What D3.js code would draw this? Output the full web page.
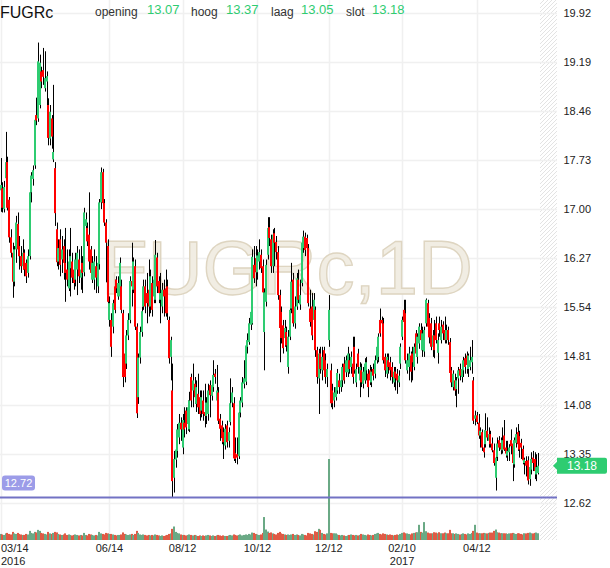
<!DOCTYPE html>
<html><head><meta charset="utf-8">
<script src="https://cdn.jsdelivr.net/npm/d3@7"></script>
<style>html,body{margin:0;padding:0;background:#fff;}svg{display:block;font-family:"Liberation Sans",Arial,sans-serif;}</style>
</head><body><svg id="c" width="610" height="568"></svg>
<script>
const symbol = "FUGRc", interval = "1D";
const headerLabels = ["opening", "hoog", "laag", "slot"];
const headerValues = [13.07, 13.37, 13.05, 13.18];
const yTicks = [12.62, 13.35, 14.08, 14.81, 15.54, 16.27, 17.00, 17.73, 18.46, 19.19, 19.92];
const xTickIdx = [0, 64, 107, 151, 193, 236, 280];
const xTickLabels = ["03/14", "06/14", "08/12", "10/12", "12/12", "02/10", "04/12"];
const xTickYears = ["2016", "", "", "", "", "2017", ""];
const refLine = 12.72;

const opens = [
17.28,17.31,17.00,17.46,17.70,17.14,16.58,16.35,15.92,16.40,
16.78,16.45,16.30,16.15,16.35,16.20,16.05,16.30,17.25,17.45,
17.65,18.40,18.35,18.55,19.05,19.07,18.80,18.90,18.55,18.05,
18.35,17.74,17.61,16.70,16.22,16.55,16.25,16.45,16.20,16.10,
15.82,16.12,16.22,16.10,15.95,16.10,16.25,15.98,16.20,16.06,
16.75,16.72,16.62,16.40,15.95,15.95,16.15,15.85,16.18,17.10,
17.55,17.09,16.80,16.45,15.35,15.35,15.25,15.85,15.95,15.70,
15.70,15.85,15.45,14.85,14.70,15.12,15.35,15.93,15.80,16.15,
15.25,14.20,14.79,15.17,15.55,15.85,15.75,15.80,15.55,15.90,
15.70,15.65,16.28,15.93,15.65,15.55,15.80,15.82,15.85,15.35,
14.80,14.30,13.00,13.27,13.40,13.60,13.82,13.45,13.82,14.00,
13.80,13.72,14.50,14.30,14.40,14.10,14.25,14.20,14.00,14.15,
13.98,13.92,13.95,14.38,14.22,14.35,14.55,14.15,14.27,13.88,
13.78,13.68,13.48,13.78,13.55,13.83,14.12,14.11,13.37,13.35,
13.32,13.97,14.12,14.40,14.43,14.95,15.02,15.28,15.30,16.17,
16.27,16.06,16.22,16.32,16.15,15.17,15.62,16.32,16.73,16.55,
16.15,16.64,16.51,16.36,15.72,15.47,15.27,15.08,15.17,14.65,
15.10,15.52,15.95,15.30,15.55,15.95,15.58,15.90,16.42,16.59,
16.57,16.42,15.52,15.55,15.35,15.50,14.90,14.48,14.85,14.60,
14.90,14.75,14.50,15.05,14.60,14.30,14.15,14.20,14.30,14.45,
14.35,14.45,14.70,14.57,14.57,14.75,14.65,14.70,14.95,14.42,
14.85,14.45,14.60,14.40,14.45,14.60,14.55,14.60,14.42,14.62,
14.55,14.75,14.80,15.35,15.35,15.30,14.80,14.55,14.75,14.72,
14.65,14.42,14.58,14.55,14.42,14.70,15.10,15.50,15.45,14.60,
14.65,14.82,14.85,14.65,15.15,14.80,15.00,15.20,14.90,14.88,
15.30,15.60,15.38,15.30,14.95,15.12,15.30,14.86,15.30,15.05,
15.28,15.20,15.05,15.20,15.02,14.60,14.35,14.45,14.32,14.48,
14.62,14.50,14.60,14.78,14.82,14.62,14.65,14.72,14.45,13.88,
13.93,13.82,13.63,13.68,13.45,13.50,13.70,13.55,13.65,13.51,
13.41,13.00,13.31,13.56,13.52,13.41,13.63,13.45,13.33,13.38,
13.56,13.51,13.20,13.52,13.68,13.62,13.52,13.43,13.22,13.25,
13.26,12.98,13.12,13.30,13.28,13.05,13.07];

const highs = [
17.76,17.40,17.42,18.15,17.78,17.18,16.70,16.50,16.45,16.90,
16.95,16.60,16.45,16.55,16.40,16.25,16.40,17.30,17.55,17.65,
18.38,18.66,19.48,19.30,19.12,19.40,19.35,19.05,18.65,18.55,
18.40,18.85,17.70,16.80,16.55,16.70,16.60,16.55,16.72,16.40,
16.40,16.72,16.35,16.20,16.35,16.45,16.40,16.45,16.30,17.02,
16.95,16.80,17.25,16.45,16.30,16.40,16.30,16.30,17.15,17.62,
17.60,17.15,16.85,16.55,15.70,15.45,15.65,15.95,16.00,16.00,
16.28,15.95,15.50,14.95,15.20,15.45,16.00,16.50,16.28,16.25,
15.30,14.85,15.25,15.55,15.95,15.95,16.05,16.25,16.10,16.00,
16.05,16.54,16.35,16.00,16.05,15.90,15.95,16.10,15.95,15.40,
15.10,14.70,13.40,13.55,13.80,13.95,13.90,13.95,14.05,14.05,
14.15,14.28,14.55,14.70,14.50,14.45,14.55,14.30,14.30,14.30,
14.40,14.20,14.40,14.45,14.50,14.75,14.62,14.68,14.35,13.95,
13.85,13.75,13.80,13.85,13.75,14.48,14.35,14.20,13.60,13.60,
14.00,14.20,14.50,14.75,15.02,15.15,15.38,15.55,16.40,16.45,
16.45,16.40,16.55,16.40,16.25,15.82,16.25,16.88,16.88,16.62,
16.70,16.72,16.60,16.45,15.80,15.55,15.35,15.35,15.25,15.20,
15.65,16.20,16.05,15.70,16.05,16.10,15.95,16.55,16.68,16.65,
16.62,16.48,15.80,15.75,15.75,15.55,14.95,14.92,14.95,14.95,
14.95,14.85,14.70,15.72,14.70,14.40,14.35,14.45,14.62,14.55,
14.60,14.70,14.80,14.82,14.95,14.85,14.88,15.10,15.10,14.70,
14.92,14.72,14.70,14.65,14.78,14.80,14.62,14.68,14.65,14.70,
14.82,15.00,15.15,15.52,15.40,15.38,14.85,14.85,14.85,14.80,
14.72,14.65,14.65,14.62,14.60,15.00,15.40,15.65,15.65,14.85,
14.95,14.88,14.95,15.00,15.20,15.15,15.30,15.30,15.25,15.25,
15.67,15.65,15.45,15.38,15.20,15.35,15.40,15.15,15.40,15.35,
15.33,15.40,15.28,15.25,15.08,14.65,14.60,14.55,14.50,14.65,
14.70,14.70,14.80,14.85,14.88,14.85,14.95,15.05,14.50,14.00,
13.98,13.95,13.75,13.72,13.55,13.96,13.90,13.75,13.70,13.60,
13.51,13.33,13.60,13.62,13.60,13.75,13.86,13.55,13.55,13.50,
13.72,13.55,13.60,13.75,13.80,13.70,13.58,13.48,13.30,13.32,
13.32,13.25,13.38,13.40,13.38,13.35,13.37];

const lows = [
16.96,16.95,16.95,17.40,16.98,16.50,16.28,15.68,15.85,16.20,
16.30,16.10,16.05,16.10,16.00,15.90,15.98,16.25,17.10,17.35,
17.60,18.25,18.30,18.50,18.80,18.85,18.75,18.55,17.95,17.95,
17.90,17.70,16.75,16.15,16.10,16.00,16.05,15.95,15.62,15.85,
15.78,15.70,15.90,15.80,15.85,15.72,15.90,15.80,15.75,16.00,
16.70,16.45,16.10,16.00,15.90,15.80,15.75,15.75,16.10,17.00,
17.05,16.75,15.91,15.55,15.25,14.80,15.15,15.45,15.75,15.65,
15.65,15.45,14.35,14.42,14.62,15.05,15.30,15.55,15.75,15.20,
13.89,14.10,14.70,15.10,15.50,15.45,15.30,15.40,15.45,15.40,
15.60,15.60,15.75,15.60,15.30,15.45,15.40,15.40,15.35,14.70,
14.45,12.70,12.78,13.15,13.30,13.50,13.55,13.35,13.60,13.65,
13.70,13.68,14.05,14.05,14.10,13.98,13.95,13.85,13.90,13.85,
13.75,13.80,13.85,13.90,14.15,14.28,14.40,14.05,13.80,13.55,
13.50,13.28,13.42,13.45,13.45,13.78,14.05,13.25,13.22,13.20,
13.28,13.90,14.05,14.33,14.38,14.85,14.98,15.20,15.28,15.90,
15.85,15.95,16.10,16.05,15.70,14.60,15.55,16.25,16.45,16.05,
16.05,16.15,16.25,15.65,14.72,15.00,14.85,14.95,14.88,14.55,
15.05,15.45,15.25,15.22,15.50,15.60,15.50,15.85,16.35,16.30,
16.35,15.55,15.25,15.05,15.30,14.80,14.40,13.95,14.55,14.45,
14.50,14.40,14.35,14.95,14.05,14.02,14.05,14.15,14.25,14.25,
14.28,14.35,14.40,14.50,14.50,14.55,14.55,14.40,14.55,14.35,
14.55,14.20,14.35,14.33,14.40,14.45,14.20,14.38,14.35,14.45,
14.48,14.70,14.72,15.10,15.25,14.70,14.50,14.48,14.55,14.45,
14.40,14.35,14.30,14.25,14.35,14.62,15.05,15.25,14.70,14.55,
14.45,14.42,14.45,14.60,14.80,14.70,14.92,14.90,14.80,14.80,
15.25,15.20,15.00,14.90,14.80,14.78,15.00,14.70,15.10,15.00,
15.05,15.00,15.00,14.98,14.50,14.35,14.30,14.22,14.05,14.25,
14.45,14.42,14.50,14.55,14.55,14.50,14.60,14.55,13.80,13.78,
13.80,13.58,13.45,13.40,13.30,13.45,13.55,13.45,13.45,13.38,
13.18,12.81,13.25,13.40,13.35,13.36,13.40,13.30,13.25,13.25,
13.35,12.95,13.15,13.45,13.40,13.30,13.28,13.20,13.05,13.02,
12.90,12.88,13.05,13.10,12.98,12.95,13.05];

const closes = [
17.36,17.02,17.33,17.70,17.02,16.58,16.35,15.92,16.40,16.80,
16.40,16.30,16.15,16.35,16.10,16.00,16.30,17.25,17.50,17.58,
18.33,18.32,19.20,19.18,18.90,18.97,18.95,18.98,18.06,18.45,
18.08,17.85,16.94,16.21,16.42,16.17,16.40,16.20,16.05,15.95,
16.22,16.30,15.98,15.90,16.25,16.35,16.00,16.10,16.05,16.95,
16.85,16.52,16.22,16.05,16.20,16.22,15.98,16.20,17.10,17.55,
17.09,16.80,16.50,15.62,15.60,14.95,15.60,15.50,15.82,15.90,
16.20,15.50,14.50,14.50,15.12,15.35,15.93,15.85,16.22,15.25,
13.96,14.79,15.17,15.48,15.85,15.55,15.60,15.55,16.00,15.50,
15.95,16.32,15.85,15.75,15.75,15.80,15.70,15.45,15.45,14.78,
15.05,12.95,13.28,13.42,13.72,13.82,13.72,13.86,13.72,13.75,
14.05,14.15,14.15,14.45,14.20,14.35,14.05,13.95,14.20,13.95,
13.92,14.12,14.30,14.23,14.38,14.53,14.50,14.30,13.85,13.73,
13.59,13.53,13.73,13.53,13.68,14.11,14.27,13.29,13.28,13.30,
13.97,14.15,14.42,14.48,14.97,15.05,15.30,15.47,16.29,15.97,
16.06,16.31,16.36,16.12,15.76,15.76,16.17,16.72,16.57,16.15,
16.62,16.50,16.36,15.72,15.23,15.08,14.93,15.23,14.97,15.10,
15.50,15.92,15.30,15.55,15.97,15.65,15.72,16.50,16.59,16.39,
16.42,15.60,15.32,15.12,15.65,14.90,14.50,14.85,14.62,14.80,
14.60,14.50,14.62,15.50,14.11,14.11,14.27,14.35,14.56,14.35,
14.45,14.65,14.45,14.75,14.85,14.62,14.80,14.50,14.60,14.62,
14.65,14.65,14.42,14.58,14.70,14.72,14.35,14.45,14.58,14.52,
14.75,14.95,15.10,15.15,15.30,14.75,14.60,14.80,14.65,14.60,
14.50,14.58,14.48,14.45,14.52,14.95,15.35,15.32,14.75,14.75,
14.85,14.58,14.72,14.95,14.85,15.10,15.25,15.05,15.15,15.20,
15.65,15.25,15.09,14.95,15.12,14.90,15.05,15.05,15.20,15.25,
15.15,15.05,15.20,15.05,14.56,14.42,14.55,14.30,14.45,14.60,
14.52,14.62,14.75,14.65,14.68,14.82,14.75,14.80,13.85,13.93,
13.83,13.63,13.70,13.45,13.38,13.71,13.60,13.65,13.50,13.41,
13.22,13.30,13.51,13.45,13.42,13.56,13.42,13.36,13.40,13.45,
13.47,13.22,13.56,13.65,13.50,13.42,13.45,13.26,13.27,13.18,
12.96,13.16,13.28,13.22,13.10,13.16,13.18];

const volumes = [
900,820,750,980,1050,900,820,1200,980,900,
1050,900,820,750,750,900,820,1350,1050,980,
1200,1120,1500,1350,1050,980,900,820,1200,980,
900,1050,1200,1120,900,820,750,820,980,750,
820,750,680,750,820,750,680,750,680,1050,
750,680,900,820,750,680,750,680,1200,980,
900,820,1050,980,900,900,820,750,680,750,
750,820,1120,900,820,750,820,900,750,900,
1350,1050,820,750,820,750,680,750,680,750,
680,820,750,680,600,680,600,680,750,900,
980,1650,2000,1200,1050,980,820,750,750,680,
750,820,750,680,750,680,600,680,600,680,
600,680,750,680,600,680,600,680,750,680,
600,680,600,600,680,750,680,820,750,680,
750,820,680,750,820,750,900,820,1100,1050,
900,820,750,820,1050,3400,1550,1250,1050,1120,
980,900,820,1050,1200,980,900,820,750,820,
750,820,900,750,820,750,680,900,820,750,
680,1050,980,900,820,1300,1200,1650,1500,1050,
900,820,980,12000,1050,1000,1000,980,820,750,
680,750,680,600,680,750,820,750,680,750,
680,750,900,820,750,680,820,750,680,750,
900,980,1050,900,820,980,900,820,750,820,
750,680,750,820,750,900,1050,1120,1000,980,
900,820,980,1050,1120,1150,2250,1200,1100,2650,
1300,1100,1000,1000,1000,1150,1100,1000,1150,1000,
1000,1100,1000,1000,1500,1000,1000,900,980,900,
820,900,980,900,820,980,900,1050,1350,2250,
1100,1000,1000,1000,1050,1000,980,1050,1100,1100,
1350,1550,1150,1100,1000,1000,1000,980,900,980,
1000,1050,980,900,1000,980,900,820,1000,980,
1050,1100,1000,980,1050,1100,1000];

const svg = d3.select("#c");
const volBase = 540, plotRight = 557, hatchLeft = 540;
const x = d3.scaleLinear().domain([0, opens.length - 1]).range([0.6, 538.1]);
const y = d3.scaleLinear().domain([12.62, 19.92]).range([503.3, 13]);
const yv = d3.scaleLinear().domain([0, d3.max(volumes)]).range([volBase, 459]);
const GREEN = "#2ecc71", RED = "#ff0000";
const VGREEN = "#6aa985", VRED = "#e05a45";

// hatch pattern
const defs = svg.append("defs");
const pat = defs.append("pattern").attr("id", "hatch").attr("patternUnits", "userSpaceOnUse")
  .attr("width", 4).attr("height", 4);
pat.append("path").attr("d", "M-1,1 l2,-2 M0,4 l4,-4 M3,5 l2,-2")
  .attr("stroke", "#e3e3e3").attr("stroke-width", 1);
svg.append("rect").attr("x", hatchLeft).attr("y", 0).attr("width", plotRight - hatchLeft)
  .attr("height", volBase).attr("fill", "url(#hatch)");

// grid
svg.append("g").selectAll("line").data(yTicks).join("line")
  .attr("x1", 0).attr("x2", plotRight)
  .attr("y1", d => Math.round(y(d)) + 0.5).attr("y2", d => Math.round(y(d)) + 0.5)
  .attr("stroke", "#f0f0f0").attr("stroke-width", 1.5);
svg.append("g").selectAll("line").data(xTickIdx).join("line")
  .attr("x1", d => Math.round(x(d)) + 0.5).attr("x2", d => Math.round(x(d)) + 0.5)
  .attr("y1", 0).attr("y2", volBase)
  .attr("stroke", "#f0f0f0").attr("stroke-width", 1.5);

// watermark
svg.append("text").attr("x", 287).attr("y", 294).attr("text-anchor", "middle")
  .attr("font-size", 76).attr("fill", "#f1ede3").attr("stroke", "#ded5c1").attr("stroke-width", 1.4)
  .text(symbol + "," + interval);

// volume
const idx = d3.range(opens.length);
svg.append("g").selectAll("rect").data(idx).join("rect")
  .attr("x", i => Math.round(x(i)) - 1).attr("width", 2)
  .attr("y", i => yv(volumes[i])).attr("height", i => volBase - yv(volumes[i]))
  .attr("fill", i => closes[i] >= opens[i] ? VGREEN : VRED);

// candles
const cg = svg.append("g");
cg.selectAll("line").data(idx).join("line")
  .attr("x1", i => Math.round(x(i)) + 0.5).attr("x2", i => Math.round(x(i)) + 0.5)
  .attr("y1", i => y(highs[i])).attr("y2", i => y(lows[i]))
  .attr("stroke", "#000").attr("stroke-width", 1);
cg.selectAll("rect").data(idx).join("rect")
  .attr("x", i => Math.round(x(i)) - 1).attr("width", 2)
  .attr("y", i => y(Math.max(opens[i], closes[i])))
  .attr("height", i => Math.max(1, Math.abs(y(opens[i]) - y(closes[i]))))
  .attr("fill", i => closes[i] >= opens[i] ? GREEN : RED);

// reference line
const ry = y(refLine);
svg.append("line").attr("x1", 0).attr("x2", plotRight).attr("y1", ry + 1).attr("y2", ry + 1)
  .attr("stroke", "#7272c4").attr("stroke-width", 2);
svg.append("rect").attr("x", 2).attr("y", ry - 21).attr("width", 33).attr("height", 15).attr("rx", 3)
  .attr("fill", "#9c9ce8");
svg.append("text").attr("x", 18.5).attr("y", ry - 9.5).attr("text-anchor", "middle")
  .attr("font-size", 11).attr("fill", "#fff").text(refLine.toFixed(2));

// y axis labels
svg.append("g").selectAll("text").data(yTicks).join("text")
  .attr("x", 563.5).attr("y", d => y(d) + 4).attr("font-size", 11).attr("fill", "#222")
  .text(d => d.toFixed(2));

// last price tag
const last = closes[closes.length - 1];
const ly = y(last);
svg.append("path")
  .attr("d", `M553,${ly} L557,${ly - 4} L557,${ly - 8} L605,${ly - 8} Q607,${ly - 8} 607,${ly - 6} L607,${ly + 6} Q607,${ly + 8} 605,${ly + 8} L557,${ly + 8} L557,${ly + 4} Z`)
  .attr("fill", GREEN);
svg.append("text").attr("x", 582).attr("y", ly + 4.5).attr("text-anchor", "middle")
  .attr("font-size", 12).attr("fill", "#fff").text(last.toFixed(2));

// x axis labels
const xl = svg.append("g");
xTickIdx.forEach((d, k) => {
  const first = k === 0;
  const tx = first ? 1 : x(d);
  const anchor = first ? "start" : "middle";
  xl.append("text").attr("x", tx).attr("y", 552).attr("text-anchor", anchor)
    .attr("font-size", 11).attr("fill", "#222").text(xTickLabels[k]);
  if (xTickYears[k]) xl.append("text").attr("x", tx).attr("y", 565).attr("text-anchor", anchor)
    .attr("font-size", 11).attr("fill", "#222").text(xTickYears[k]);
});

// header
svg.append("text").attr("x", 0).attr("y", 18).attr("font-size", 16).attr("fill", "#111").text(symbol);
const labX = [95, 191, 271, 346], valX = [147, 226, 301, 372];
headerLabels.forEach((t, k) => {
  svg.append("text").attr("x", labX[k]).attr("y", 16).attr("font-size", 12).attr("fill", "#333").text(t);
  svg.append("text").attr("x", valX[k]).attr("y", 14).attr("font-size", 13).attr("fill", GREEN).text(headerValues[k].toFixed(2));
});
</script></body></html>
